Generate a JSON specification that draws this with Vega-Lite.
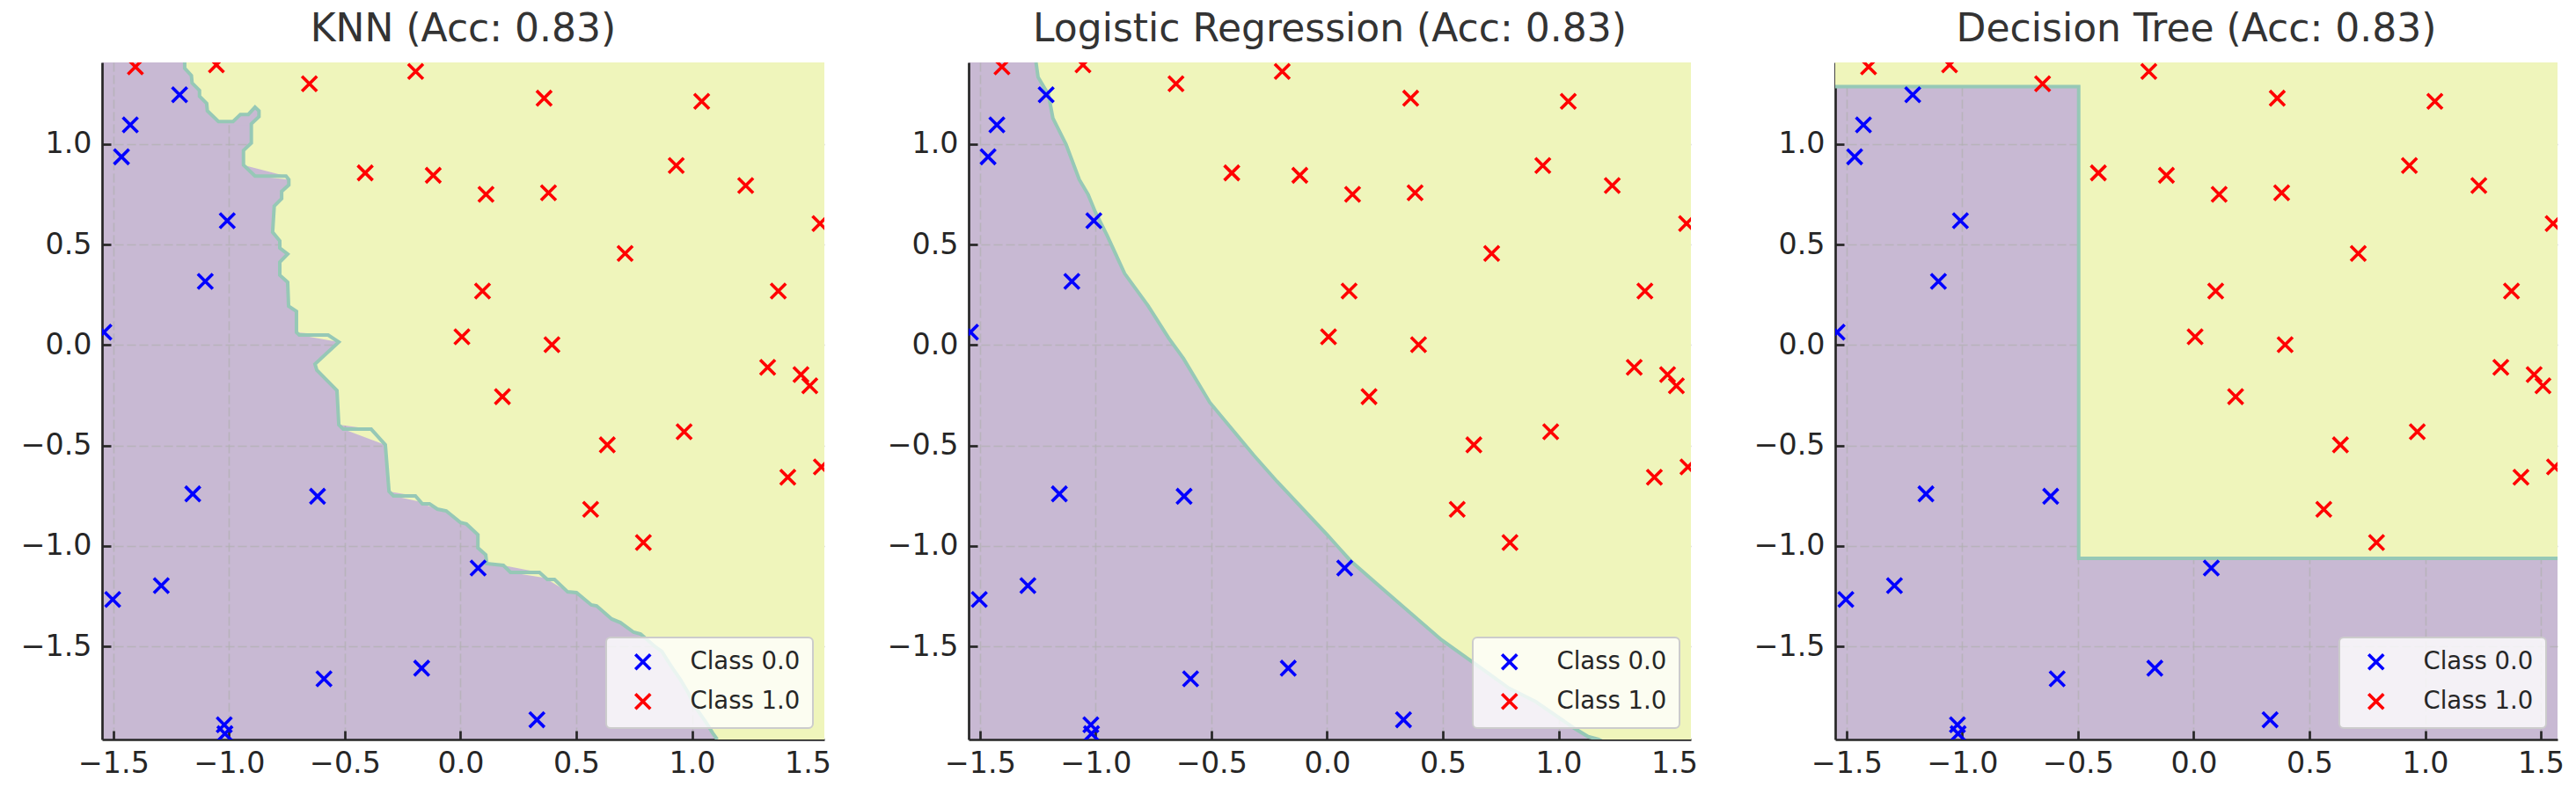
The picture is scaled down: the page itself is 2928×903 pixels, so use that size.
{
  "$schema": "https://vega.github.io/schema/vega-lite/v6.json",
  "background": "white",
  "padding": {"left": 23, "top": 12, "right": 20, "bottom": 10},
  "datasets": {
    "points": [
      {"x": -1.214, "y": 1.246, "cls": "Class 0.0"},
      {"x": -1.427, "y": 1.096, "cls": "Class 0.0"},
      {"x": -1.465, "y": 0.937, "cls": "Class 0.0"},
      {"x": -1.008, "y": 0.619, "cls": "Class 0.0"},
      {"x": -1.103, "y": 0.317, "cls": "Class 0.0"},
      {"x": -1.541, "y": 0.064, "cls": "Class 0.0"},
      {"x": -1.157, "y": -0.741, "cls": "Class 0.0"},
      {"x": -0.618, "y": -0.753, "cls": "Class 0.0"},
      {"x": -1.293, "y": -1.198, "cls": "Class 0.0"},
      {"x": -1.503, "y": -1.267, "cls": "Class 0.0"},
      {"x": -0.590, "y": -1.662, "cls": "Class 0.0"},
      {"x": -0.168, "y": -1.609, "cls": "Class 0.0"},
      {"x": -1.021, "y": -1.891, "cls": "Class 0.0"},
      {"x": -1.018, "y": -1.935, "cls": "Class 0.0"},
      {"x": 0.076, "y": -1.110, "cls": "Class 0.0"},
      {"x": 0.330, "y": -1.866, "cls": "Class 0.0"},
      {"x": -1.405, "y": 1.385, "cls": "Class 1.0"},
      {"x": -1.055, "y": 1.395, "cls": "Class 1.0"},
      {"x": -0.653, "y": 1.301, "cls": "Class 1.0"},
      {"x": -0.194, "y": 1.362, "cls": "Class 1.0"},
      {"x": -0.412, "y": 0.857, "cls": "Class 1.0"},
      {"x": -0.118, "y": 0.845, "cls": "Class 1.0"},
      {"x": 0.006, "y": 0.041, "cls": "Class 1.0"},
      {"x": 0.361, "y": 1.229, "cls": "Class 1.0"},
      {"x": 1.042, "y": 1.213, "cls": "Class 1.0"},
      {"x": 0.932, "y": 0.894, "cls": "Class 1.0"},
      {"x": 1.232, "y": 0.794, "cls": "Class 1.0"},
      {"x": 0.110, "y": 0.750, "cls": "Class 1.0"},
      {"x": 0.380, "y": 0.758, "cls": "Class 1.0"},
      {"x": 1.553, "y": 0.605, "cls": "Class 1.0"},
      {"x": 0.711, "y": 0.456, "cls": "Class 1.0"},
      {"x": 0.095, "y": 0.269, "cls": "Class 1.0"},
      {"x": 1.373, "y": 0.269, "cls": "Class 1.0"},
      {"x": 0.395, "y": 0.002, "cls": "Class 1.0"},
      {"x": 1.327, "y": -0.111, "cls": "Class 1.0"},
      {"x": 1.471, "y": -0.147, "cls": "Class 1.0"},
      {"x": 1.509, "y": -0.203, "cls": "Class 1.0"},
      {"x": 0.181, "y": -0.257, "cls": "Class 1.0"},
      {"x": 0.966, "y": -0.432, "cls": "Class 1.0"},
      {"x": 0.634, "y": -0.497, "cls": "Class 1.0"},
      {"x": 1.414, "y": -0.658, "cls": "Class 1.0"},
      {"x": 1.559, "y": -0.607, "cls": "Class 1.0"},
      {"x": 0.562, "y": -0.818, "cls": "Class 1.0"},
      {"x": 0.790, "y": -0.983, "cls": "Class 1.0"}
    ],
    "knn": [
      {"i": 1, "x": -1.192, "y": 1.407},
      {"i": 2, "x": -1.192, "y": 1.378},
      {"i": 3, "x": -1.163, "y": 1.342},
      {"i": 4, "x": -1.160, "y": 1.305},
      {"i": 5, "x": -1.128, "y": 1.268},
      {"i": 6, "x": -1.128, "y": 1.239},
      {"i": 7, "x": -1.097, "y": 1.203},
      {"i": 8, "x": -1.094, "y": 1.166},
      {"i": 9, "x": -1.046, "y": 1.113},
      {"i": 10, "x": -0.983, "y": 1.113},
      {"i": 11, "x": -0.951, "y": 1.148},
      {"i": 12, "x": -0.917, "y": 1.148},
      {"i": 13, "x": -0.888, "y": 1.184},
      {"i": 14, "x": -0.871, "y": 1.166},
      {"i": 15, "x": -0.871, "y": 1.137},
      {"i": 16, "x": -0.904, "y": 1.101},
      {"i": 17, "x": -0.904, "y": 1.006},
      {"i": 18, "x": -0.938, "y": 0.969},
      {"i": 19, "x": -0.938, "y": 0.896},
      {"i": 20, "x": -0.888, "y": 0.841},
      {"i": 21, "x": -0.754, "y": 0.841},
      {"i": 22, "x": -0.742, "y": 0.824},
      {"i": 23, "x": -0.742, "y": 0.797},
      {"i": 24, "x": -0.773, "y": 0.765},
      {"i": 25, "x": -0.773, "y": 0.729},
      {"i": 26, "x": -0.805, "y": 0.692},
      {"i": 27, "x": -0.812, "y": 0.562},
      {"i": 28, "x": -0.781, "y": 0.518},
      {"i": 29, "x": -0.781, "y": 0.483},
      {"i": 30, "x": -0.747, "y": 0.453},
      {"i": 31, "x": -0.781, "y": 0.413},
      {"i": 32, "x": -0.781, "y": 0.348},
      {"i": 33, "x": -0.747, "y": 0.313},
      {"i": 34, "x": -0.743, "y": 0.194},
      {"i": 35, "x": -0.709, "y": 0.168},
      {"i": 36, "x": -0.709, "y": 0.063},
      {"i": 37, "x": -0.697, "y": 0.050},
      {"i": 38, "x": -0.572, "y": 0.050},
      {"i": 39, "x": -0.526, "y": 0.015},
      {"i": 40, "x": -0.629, "y": -0.095},
      {"i": 41, "x": -0.621, "y": -0.125},
      {"i": 42, "x": -0.534, "y": -0.226},
      {"i": 43, "x": -0.526, "y": -0.397},
      {"i": 44, "x": -0.507, "y": -0.419},
      {"i": 45, "x": -0.386, "y": -0.419},
      {"i": 46, "x": -0.325, "y": -0.497},
      {"i": 47, "x": -0.309, "y": -0.729},
      {"i": 48, "x": -0.290, "y": -0.751},
      {"i": 49, "x": -0.195, "y": -0.751},
      {"i": 50, "x": -0.165, "y": -0.791},
      {"i": 51, "x": -0.134, "y": -0.791},
      {"i": 52, "x": -0.100, "y": -0.817},
      {"i": 53, "x": -0.062, "y": -0.826},
      {"i": 54, "x": -0.001, "y": -0.883},
      {"i": 55, "x": 0.025, "y": -0.891},
      {"i": 56, "x": 0.075, "y": -0.944},
      {"i": 57, "x": 0.075, "y": -1.010},
      {"i": 58, "x": 0.109, "y": -1.045},
      {"i": 59, "x": 0.113, "y": -1.088},
      {"i": 60, "x": 0.185, "y": -1.097},
      {"i": 61, "x": 0.216, "y": -1.132},
      {"i": 62, "x": 0.341, "y": -1.132},
      {"i": 63, "x": 0.375, "y": -1.167},
      {"i": 64, "x": 0.406, "y": -1.167},
      {"i": 65, "x": 0.463, "y": -1.229},
      {"i": 66, "x": 0.501, "y": -1.233},
      {"i": 67, "x": 0.565, "y": -1.294},
      {"i": 68, "x": 0.588, "y": -1.299},
      {"i": 69, "x": 0.653, "y": -1.364},
      {"i": 70, "x": 0.691, "y": -1.382},
      {"i": 71, "x": 0.748, "y": -1.430},
      {"i": 72, "x": 0.778, "y": -1.439},
      {"i": 73, "x": 0.843, "y": -1.504},
      {"i": 74, "x": 0.870, "y": -1.526},
      {"i": 75, "x": 0.889, "y": -1.561},
      {"i": 76, "x": 0.919, "y": -1.614},
      {"i": 77, "x": 0.950, "y": -1.666},
      {"i": 78, "x": 0.984, "y": -1.732},
      {"i": 79, "x": 1.007, "y": -1.789},
      {"i": 80, "x": 1.033, "y": -1.833},
      {"i": 81, "x": 1.064, "y": -1.885},
      {"i": 82, "x": 1.090, "y": -1.933},
      {"i": 83, "x": 1.109, "y": -1.964}
    ],
    "knn_area": [
      {"x": 1.109, "y": -1.964, "right": 1.8},
      {"x": 1.090, "y": -1.933, "right": 1.8},
      {"x": 1.064, "y": -1.885, "right": 1.8},
      {"x": 1.033, "y": -1.833, "right": 1.8},
      {"x": 1.007, "y": -1.789, "right": 1.8},
      {"x": 0.984, "y": -1.732, "right": 1.8},
      {"x": 0.950, "y": -1.666, "right": 1.8},
      {"x": 0.919, "y": -1.614, "right": 1.8},
      {"x": 0.889, "y": -1.561, "right": 1.8},
      {"x": 0.870, "y": -1.526, "right": 1.8},
      {"x": 0.843, "y": -1.504, "right": 1.8},
      {"x": 0.778, "y": -1.439, "right": 1.8},
      {"x": 0.748, "y": -1.430, "right": 1.8},
      {"x": 0.691, "y": -1.382, "right": 1.8},
      {"x": 0.653, "y": -1.364, "right": 1.8},
      {"x": 0.588, "y": -1.299, "right": 1.8},
      {"x": 0.565, "y": -1.294, "right": 1.8},
      {"x": 0.501, "y": -1.233, "right": 1.8},
      {"x": 0.463, "y": -1.229, "right": 1.8},
      {"x": 0.406, "y": -1.167, "right": 1.8},
      {"x": 0.375, "y": -1.167, "right": 1.8},
      {"x": 0.341, "y": -1.132, "right": 1.8},
      {"x": 0.216, "y": -1.132, "right": 1.8},
      {"x": 0.185, "y": -1.097, "right": 1.8},
      {"x": 0.113, "y": -1.088, "right": 1.8},
      {"x": 0.109, "y": -1.045, "right": 1.8},
      {"x": 0.075, "y": -1.010, "right": 1.8},
      {"x": 0.075, "y": -0.944, "right": 1.8},
      {"x": 0.025, "y": -0.891, "right": 1.8},
      {"x": -0.001, "y": -0.883, "right": 1.8},
      {"x": -0.062, "y": -0.826, "right": 1.8},
      {"x": -0.100, "y": -0.817, "right": 1.8},
      {"x": -0.134, "y": -0.791, "right": 1.8},
      {"x": -0.165, "y": -0.791, "right": 1.8},
      {"x": -0.195, "y": -0.751, "right": 1.8},
      {"x": -0.290, "y": -0.751, "right": 1.8},
      {"x": -0.309, "y": -0.729, "right": 1.8},
      {"x": -0.325, "y": -0.497, "right": 1.8},
      {"x": -0.386, "y": -0.419, "right": 1.8},
      {"x": -0.507, "y": -0.419, "right": 1.8},
      {"x": -0.526, "y": -0.397, "right": 1.8},
      {"x": -0.534, "y": -0.226, "right": 1.8},
      {"x": -0.621, "y": -0.125, "right": 1.8},
      {"x": -0.629, "y": -0.095, "right": 1.8},
      {"x": -0.526, "y": 0.015, "right": 1.8},
      {"x": -0.572, "y": 0.050, "right": 1.8},
      {"x": -0.697, "y": 0.050, "right": 1.8},
      {"x": -0.709, "y": 0.063, "right": 1.8},
      {"x": -0.709, "y": 0.168, "right": 1.8},
      {"x": -0.743, "y": 0.194, "right": 1.8},
      {"x": -0.747, "y": 0.313, "right": 1.8},
      {"x": -0.781, "y": 0.348, "right": 1.8},
      {"x": -0.781, "y": 0.413, "right": 1.8},
      {"x": -0.747, "y": 0.453, "right": 1.8},
      {"x": -0.781, "y": 0.483, "right": 1.8},
      {"x": -0.781, "y": 0.518, "right": 1.8},
      {"x": -0.812, "y": 0.562, "right": 1.8},
      {"x": -0.805, "y": 0.692, "right": 1.8},
      {"x": -0.773, "y": 0.729, "right": 1.8},
      {"x": -0.773, "y": 0.765, "right": 1.8},
      {"x": -0.742, "y": 0.797, "right": 1.8},
      {"x": -0.742, "y": 0.824, "right": 1.8},
      {"x": -0.754, "y": 0.841, "right": 1.8},
      {"x": -0.888, "y": 0.841, "right": 1.8},
      {"x": -0.938, "y": 0.896, "right": 1.8},
      {"x": -0.938, "y": 0.969, "right": 1.8},
      {"x": -0.904, "y": 1.006, "right": 1.8},
      {"x": -0.904, "y": 1.101, "right": 1.8},
      {"x": -1.046, "y": 1.113, "right": 1.8},
      {"x": -1.094, "y": 1.166, "right": 1.8},
      {"x": -1.097, "y": 1.203, "right": 1.8},
      {"x": -1.128, "y": 1.239, "right": 1.8},
      {"x": -1.128, "y": 1.268, "right": 1.8},
      {"x": -1.160, "y": 1.305, "right": 1.8},
      {"x": -1.163, "y": 1.342, "right": 1.8},
      {"x": -1.192, "y": 1.378, "right": 1.8},
      {"x": -1.192, "y": 1.407, "right": 1.8}
    ],
    "knn_tongue": [
      {"x": -1.046, "y": 1.113, "bot": 1.095},
      {"x": -0.983, "y": 1.113, "bot": 1.095},
      {"x": -0.951, "y": 1.148, "bot": 1.095},
      {"x": -0.917, "y": 1.148, "bot": 1.095},
      {"x": -0.904, "y": 1.164, "bot": 1.098},
      {"x": -0.888, "y": 1.184, "bot": 1.118},
      {"x": -0.871, "y": 1.166, "bot": 1.137}
    ],
    "lr": [
      {"i": 1, "x": -1.258, "y": 1.407, "top": 1.407},
      {"i": 2, "x": -1.249, "y": 1.334, "top": 1.407},
      {"i": 3, "x": -1.204, "y": 1.246, "top": 1.407},
      {"i": 4, "x": -1.185, "y": 1.130, "top": 1.407},
      {"i": 5, "x": -1.128, "y": 0.999, "top": 1.407},
      {"i": 6, "x": -1.071, "y": 0.824, "top": 1.407},
      {"i": 7, "x": -1.033, "y": 0.750, "top": 1.407},
      {"i": 8, "x": -1.002, "y": 0.663, "top": 1.407},
      {"i": 9, "x": -0.951, "y": 0.546, "top": 1.407},
      {"i": 10, "x": -0.875, "y": 0.356, "top": 1.407},
      {"i": 11, "x": -0.774, "y": 0.196, "top": 1.407},
      {"i": 12, "x": -0.685, "y": 0.035, "top": 1.407},
      {"i": 13, "x": -0.621, "y": -0.067, "top": 1.407},
      {"i": 14, "x": -0.507, "y": -0.286, "top": 1.407},
      {"i": 15, "x": -0.317, "y": -0.549, "top": 1.407},
      {"i": 16, "x": -0.216, "y": -0.680, "top": 1.407},
      {"i": 17, "x": -0.001, "y": -0.943, "top": 1.407},
      {"i": 18, "x": 0.101, "y": -1.074, "top": 1.407},
      {"i": 19, "x": 0.253, "y": -1.227, "top": 1.407},
      {"i": 20, "x": 0.494, "y": -1.468, "top": 1.407},
      {"i": 21, "x": 0.672, "y": -1.614, "top": 1.407},
      {"i": 22, "x": 0.786, "y": -1.709, "top": 1.407},
      {"i": 23, "x": 0.900, "y": -1.775, "top": 1.407},
      {"i": 24, "x": 1.065, "y": -1.906, "top": 1.407},
      {"i": 25, "x": 1.128, "y": -1.950, "top": 1.407},
      {"i": 26, "x": 1.173, "y": -1.964, "top": 1.407},
      {"i": 27, "x": 1.8, "y": -2.3, "top": 1.407}
    ],
    "dt": [
      {"i": 1, "x": -1.8, "y": 1.287, "top": 1.407},
      {"i": 2, "x": -0.497, "y": 1.287, "top": 1.407},
      {"i": 3, "x": -0.497, "y": -1.062, "top": 1.407},
      {"i": 4, "x": 1.8, "y": -1.062, "top": 1.407}
    ]
  },
  "hconcat": [
    {
      "title": "KNN (Acc: 0.83)",
      "width": 821,
      "height": 770,
      "layer": [
        {
          "data": {"name": "knn_area"},
          "mark": {"type": "area", "color": "#eff5bb", "opacity": 1, "clip": true},
          "encoding": {
            "x": {"field": "x", "type": "quantitative", "scale": {"domain": [-1.549, 1.572], "nice": false, "zero": false}, "axis": {"title": null, "values": [-1.5, -1.0, -0.5, 0.0, 0.5, 1.0, 1.5]}},
            "x2": {"field": "right"},
            "y": {"field": "y", "type": "quantitative", "scale": {"domain": [-1.964, 1.407], "nice": false, "zero": false}, "axis": {"title": null, "values": [-1.5, -1.0, -0.5, 0.0, 0.5, 1.0]}}
          }
        },
        {
          "data": {"name": "knn_tongue"},
          "mark": {"type": "area", "color": "#c8b9d3", "opacity": 1, "clip": true},
          "encoding": {
            "x": {"field": "x", "type": "quantitative"},
            "y": {"field": "y", "type": "quantitative", "stack": null},
            "y2": {"field": "bot"}
          }
        },
        {
          "data": {"name": "knn"},
          "mark": {"type": "line", "color": "#96c8b6", "strokeWidth": 4, "clip": true},
          "encoding": {
            "x": {"field": "x", "type": "quantitative"},
            "y": {"field": "y", "type": "quantitative"},
            "order": {"field": "i", "type": "quantitative"}
          }
        },
        {
          "data": {"name": "points"},
          "mark": {"type": "point", "shape": "M-1,-1L1,1M-1,1L1,-1", "filled": false, "size": 290, "strokeWidth": 3.6, "opacity": 1, "clip": true},
          "encoding": {
            "x": {"field": "x", "type": "quantitative"},
            "y": {"field": "y", "type": "quantitative"},
            "color": {"field": "cls", "type": "nominal", "scale": {"domain": ["Class 0.0", "Class 1.0"], "range": ["#0000ff", "#ff0000"]}, "legend": {"title": null}}
          }
        }
      ]
    },
    {
      "title": "Logistic Regression (Acc: 0.83)",
      "width": 821,
      "height": 770,
      "layer": [
        {
          "data": {"name": "lr"},
          "mark": {"type": "area", "color": "#eff5bb", "opacity": 1, "clip": true},
          "encoding": {
            "x": {"field": "x", "type": "quantitative", "scale": {"domain": [-1.549, 1.572], "nice": false, "zero": false}, "axis": {"title": null, "values": [-1.5, -1.0, -0.5, 0.0, 0.5, 1.0, 1.5]}},
            "y": {"field": "y", "type": "quantitative", "stack": null, "scale": {"domain": [-1.964, 1.407], "nice": false, "zero": false}, "axis": {"title": null, "values": [-1.5, -1.0, -0.5, 0.0, 0.5, 1.0]}},
            "y2": {"field": "top"}
          }
        },
        {
          "data": {"name": "lr"},
          "mark": {"type": "line", "color": "#96c8b6", "strokeWidth": 4, "clip": true},
          "encoding": {
            "x": {"field": "x", "type": "quantitative"},
            "y": {"field": "y", "type": "quantitative"},
            "order": {"field": "i", "type": "quantitative"}
          }
        },
        {
          "data": {"name": "points"},
          "mark": {"type": "point", "shape": "M-1,-1L1,1M-1,1L1,-1", "filled": false, "size": 290, "strokeWidth": 3.6, "opacity": 1, "clip": true},
          "encoding": {
            "x": {"field": "x", "type": "quantitative"},
            "y": {"field": "y", "type": "quantitative"},
            "color": {"field": "cls", "type": "nominal", "scale": {"domain": ["Class 0.0", "Class 1.0"], "range": ["#0000ff", "#ff0000"]}, "legend": {"title": null}}
          }
        }
      ]
    },
    {
      "title": "Decision Tree (Acc: 0.83)",
      "width": 821,
      "height": 770,
      "layer": [
        {
          "data": {"name": "dt"},
          "mark": {"type": "area", "color": "#eff5bb", "opacity": 1, "clip": true},
          "encoding": {
            "x": {"field": "x", "type": "quantitative", "scale": {"domain": [-1.549, 1.572], "nice": false, "zero": false}, "axis": {"title": null, "values": [-1.5, -1.0, -0.5, 0.0, 0.5, 1.0, 1.5]}},
            "y": {"field": "y", "type": "quantitative", "stack": null, "scale": {"domain": [-1.964, 1.407], "nice": false, "zero": false}, "axis": {"title": null, "values": [-1.5, -1.0, -0.5, 0.0, 0.5, 1.0]}},
            "y2": {"field": "top"}
          }
        },
        {
          "data": {"name": "dt"},
          "mark": {"type": "line", "color": "#96c8b6", "strokeWidth": 4, "clip": true},
          "encoding": {
            "x": {"field": "x", "type": "quantitative"},
            "y": {"field": "y", "type": "quantitative"},
            "order": {"field": "i", "type": "quantitative"}
          }
        },
        {
          "data": {"name": "points"},
          "mark": {"type": "point", "shape": "M-1,-1L1,1M-1,1L1,-1", "filled": false, "size": 290, "strokeWidth": 3.6, "opacity": 1, "clip": true},
          "encoding": {
            "x": {"field": "x", "type": "quantitative"},
            "y": {"field": "y", "type": "quantitative"},
            "color": {"field": "cls", "type": "nominal", "scale": {"domain": ["Class 0.0", "Class 1.0"], "range": ["#0000ff", "#ff0000"]}, "legend": {"title": null}}
          }
        }
      ]
    }
  ],
  "spacing": 164,
  "bounds": "flush",
  "resolve": {"scale": {"color": "independent"}, "legend": {"color": "independent"}},
  "config": {
    "view": {"stroke": null, "fill": "#c8b9d3"},
    "font": "DejaVu Sans",
    "title": {"fontSize": 44, "font": "DejaVu Sans", "fontWeight": "normal", "color": "#333333", "anchor": "middle", "frame": "group", "baseline": "alphabetic", "offset": 15},
    "axis": {
      "grid": true,
      "gridColor": "#b0b0b0",
      "gridDash": [10, 4],
      "gridWidth": 1.6,
      "gridOpacity": 0.7,
      "domainColor": "#262626",
      "domainWidth": 2.7,
      "tickColor": "#262626",
      "tickWidth": 2.7,
      "tickSize": -10,
      "labelFont": "DejaVu Sans",
      "labelFontSize": 33.3,
      "labelColor": "#262626",
      "labelFlush": false,
      "labelOverlap": false,
      "format": ".1f",
      "zindex": 1
    },
    "axisX": {"labelPadding": 21},
    "axisY": {"labelPadding": 22},
    "legend": {
      "orient": "bottom-right",
      "offset": 13,
      "padding": 14,
      "fillColor": "rgba(255,255,255,0.8)",
      "strokeColor": "#cccccc",
      "strokeWidth": 2,
      "cornerRadius": 5,
      "labelFont": "DejaVu Sans",
      "labelFontSize": 27.5,
      "labelColor": "#262626",
      "symbolSize": 290,
      "symbolStrokeWidth": 3.6,
      "symbolType": "M-1,-1L1,1M-1,1L1,-1",
      "symbolOffset": 14,
      "labelOffset": 40,
      "rowPadding": 13,
      "zindex": 2
    }
  }
}
